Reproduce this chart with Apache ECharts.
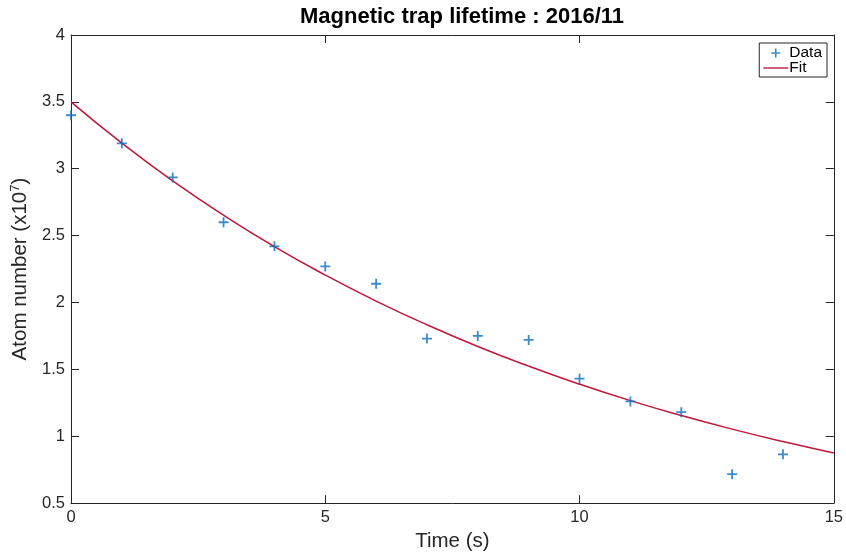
<!DOCTYPE html>
<html>
<head>
<meta charset="utf-8">
<script src="https://cdn.jsdelivr.net/npm/echarts@6/dist/echarts.min.js"></script>
<style>html,body{margin:0;padding:0;background:#fff;}#c{width:846px;height:557px;}</style>
</head>
<body>
<div id="c"></div>
<script>
const timeData = [0, 1, 2, 3, 4, 5, 6, 7, 8, 9, 10, 11, 12, 13, 14];
const atomData = [3.40, 3.19, 2.935, 2.60, 2.42, 2.27, 2.14, 1.73, 1.75, 1.72, 1.43, 1.26, 1.18, 0.716, 0.865];
const fitTime = [0, 1, 2, 3, 4, 5, 6, 7, 8, 9, 10, 11, 12, 13, 14, 15];
const fitValues = [3.5, 3.191, 2.909, 2.653, 2.418, 2.205, 2.010, 1.833, 1.671, 1.524, 1.389, 1.266, 1.155, 1.053, 0.960, 0.875];
const xTicks = {min: 0, max: 15, interval: 5};
const yTicks = {min: 0.5, max: 4, interval: 0.5};

const font = 'Liberation Sans, Arial, Helvetica, sans-serif';
const axisCol = '#262626';
const plusPath = 'path://M4.1,0H5.9V10H4.1Z M0,4.1H10V5.9H0Z';
const linePath = 'path://M0,0H25V1.4H0Z';

const chart = echarts.init(document.getElementById('c'), null, {renderer: 'canvas'});
function axisBase(extra) {
  return Object.assign({
    type: 'value',
    splitLine: {show: false},
    axisLine: {show: true, onZero: false, lineStyle: {color: axisCol, width: 1}},
    axisTick: {show: true, inside: true, length: 8, lineStyle: {color: axisCol}},
    axisLabel: {color: '#262626', fontFamily: font, fontSize: 16.5},
  }, extra);
}
chart.setOption({
  animation: false,
  backgroundColor: '#fff',
  title: {
    text: 'Magnetic trap lifetime : 2016/11',
    left: 457, top: 1, textAlign: 'center',
    textStyle: {fontFamily: font, fontWeight: 'bold', fontSize: 22, color: '#000'}
  },
  grid: {left: 71, right: 11, top: 35, bottom: 52, containLabel: false},
  legend: {
    right: 19, top: 43, orient: 'vertical',
    data: [{name: 'Data', icon: plusPath}, {name: 'Fit', icon: linePath}],
    borderColor: axisCol, borderWidth: 1, backgroundColor: '#fff',
    padding: [2, 5, 1, 4], itemGap: -1, itemWidth: 25, itemHeight: 9,
    textStyle: {fontFamily: font, fontSize: 15.5, color: '#000', padding: [0, 0, 0, -4]}
  },
  xAxis: [
    axisBase(Object.assign({position: 'bottom', name: 'Time (s)', nameLocation: 'middle', nameGap: 26,
      nameTextStyle: {fontFamily: font, fontSize: 20.5, color: '#262626'},
      axisLabel: {color: '#262626', fontFamily: font, fontSize: 16.5, margin: 6}}, xTicks)),
    axisBase(Object.assign({position: 'top', axisLabel: {show: false}}, xTicks))
  ],
  yAxis: [
    axisBase(Object.assign({position: 'left', name: '{n|Atom number (x10}{s|7}{n|)}', nameLocation: 'middle', nameGap: 40,
      nameTextStyle: {rich: {
        n: {fontFamily: font, fontSize: 20.5, color: '#262626'},
        s: {fontFamily: font, fontSize: 13, color: '#262626', verticalAlign: 'top', padding: [0, 0, 9, 0]}
      }},
      axisLabel: {color: '#262626', fontFamily: font, fontSize: 16.5, margin: 6}}, yTicks)),
    axisBase(Object.assign({position: 'right', axisLabel: {show: false}}, yTicks))
  ],
  series: [
    {
      name: 'Data', type: 'scatter',
      data: timeData.map((t, i) => [t, atomData[i]]),
      symbol: plusPath, symbolSize: 10,
      itemStyle: {color: '#0b6fc0'}, z: 3
    },
    {
      name: 'Fit', type: 'line', smooth: true, showSymbol: false, symbol: 'none',
      data: fitTime.map((t, i) => [t, fitValues[i]]),
      lineStyle: {color: '#c0163c', width: 1.5},
      itemStyle: {color: '#c0163c'}, z: 2
    }
  ]
});
</script>
</body>
</html>
